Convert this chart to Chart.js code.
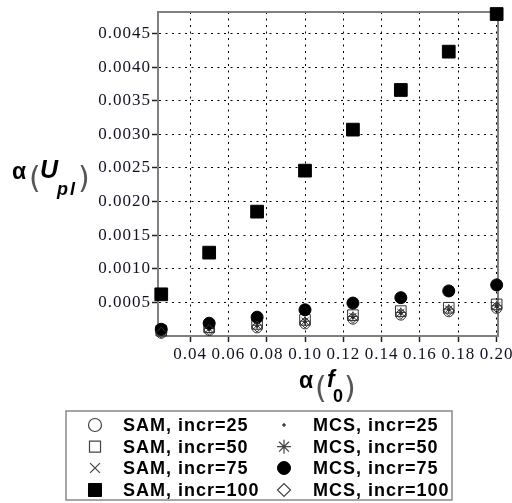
<!DOCTYPE html>
<html>
<head>
<meta charset="utf-8">
<script src="https://cdn.jsdelivr.net/npm/chart.js@4/dist/chart.umd.min.js"></script>
<style>
  html, body { margin: 0; padding: 0; background: #fff; }
  #wrap { width: 512px; height: 503px; position: relative; }
</style>
</head>
<body>
<div id="wrap"><canvas id="chart" width="512" height="503"></canvas></div>
<script>
const xValues = [0.025, 0.05, 0.075, 0.10, 0.125, 0.15, 0.175, 0.20];
const xTicks = [0.04, 0.06, 0.08, 0.10, 0.12, 0.14, 0.16, 0.18, 0.20];
const yTicks = [0.0005, 0.0010, 0.0015, 0.0020, 0.0025, 0.0030, 0.0035, 0.0040, 0.0045];

const sam25 = [0.00004, 0.00008, 0.00012, 0.00018, 0.00025, 0.00031, 0.00036, 0.00041];
const sam50 = [0.00008, 0.00013, 0.00018, 0.00024, 0.00031, 0.00037, 0.00042, 0.00047];
const sam75 = [0.00010, 0.00019, 0.00028, 0.00039, 0.00049, 0.00057, 0.00067, 0.00076];
const sam100 = [0.00062, 0.00124, 0.00185, 0.00246, 0.00307, 0.00366, 0.00423, 0.00479];
const mcs25 = [0.00006, 0.00010, 0.00015, 0.00021, 0.00028, 0.00034, 0.00039, 0.00044];
const mcs50 = [0.00007, 0.00011, 0.00016, 0.00022, 0.00029, 0.00035, 0.00040, 0.00045];
const mcs75 = [0.00010, 0.00019, 0.00028, 0.00039, 0.00049, 0.00057, 0.00067, 0.00076];
const mcs100 = [0.00005, 0.00009, 0.00014, 0.00020, 0.00027, 0.00033, 0.00038, 0.00043];

const toPts = arr => arr.map((v, i) => ({ x: xValues[i], y: v }));

// marker look, shared by the plot and the legend
const series = [
  { label: "SAM, incr=25",  data: sam25,  style: "circle",   r: 5,   fill: "rgba(0,0,0,0)", line: "#333", bw: 1 },
  { label: "SAM, incr=50",  data: sam50,  style: "rect",     r: 7.5, fill: "rgba(0,0,0,0)", line: "#333", bw: 1 },
  { label: "SAM, incr=75",  data: sam75,  style: "crossRot", r: 6,   fill: "rgba(0,0,0,0)", line: "#222", bw: 1 },
  { label: "SAM, incr=100", data: sam100, style: "rect",     r: 9,   fill: "#000", line: "#000", bw: 1 },
  { label: "MCS, incr=25",  data: mcs25,  style: "circle",   r: 1.3, fill: "#000", line: "#000", bw: 1 },
  { label: "MCS, incr=50",  data: mcs50,  style: "star",     r: 5,   fill: "rgba(0,0,0,0)", line: "#333", bw: 1 },
  { label: "MCS, incr=75",  data: mcs75,  style: "circle",   r: 6,   fill: "#000", line: "#000", bw: 1 },
  { label: "MCS, incr=100", data: mcs100, style: "rectRot",  r: 5.5, fill: "rgba(0,0,0,0)", line: "#333", bw: 1 }
];

const drawOrder = [7, 6, 5, 4, 3, 2, 1, 0];

const legendMarkers = [
  { style: "circle", r: 6.5, fill: "#fff", line: "#444", bw: 1.2 },
  { style: "rect", r: 7.8, fill: "#fff", line: "#444", bw: 1.2 },
  { style: "crossRot", r: 7, fill: "#fff", line: "#444", bw: 1.2 },
  { style: "rect", r: 9.2, fill: "#000", line: "#000", bw: 1 },
  { style: "circle", r: 1.3, fill: "#444", line: "#444", bw: 1 },
  { style: "star", r: 7, fill: "#fff", line: "#444", bw: 1.2 },
  { style: "circle", r: 6.5, fill: "#000", line: "#000", bw: 1 },
  { style: "rectRot", r: 6.5, fill: "#fff", line: "#444", bw: 1.2 }
];

const frameAndText = {
  id: "frameAndText",
  beforeDraw(chart) {
    chart.ctx.letterSpacing = "1px";
  },
  beforeDatasetsDraw(chart) {
    const { ctx, chartArea: a } = chart;
    ctx.save();
    ctx.strokeStyle = "#808080";
    ctx.lineWidth = 2;
    ctx.beginPath();
    ctx.moveTo(a.left, a.top);
    ctx.lineTo(a.right, a.top);
    ctx.lineTo(a.right, a.bottom);
    ctx.stroke();
    ctx.restore();
  },
  afterDraw(chart) {
    const ctx = chart.ctx;
    ctx.save();
    ctx.letterSpacing = "0px";
    ctx.fillStyle = "#000";
    ctx.textBaseline = "alphabetic";
    ctx.textAlign = "left";

    // y title: α(U_pl)
    ctx.font = "bold 23px 'Liberation Sans'";
    ctx.fillText("α", 12, 179);
    ctx.fillStyle = "#555";
    ctx.font = "30px 'DejaVu Sans'";
    ctx.fillText("(", 29, 188);
    ctx.fillText(")", 78, 188);
    ctx.fillStyle = "#000";
    ctx.font = "bold italic 25px 'Liberation Sans'";
    ctx.fillText("U", 40, 178);
    ctx.font = "bold italic 18px 'Liberation Sans'";
    ctx.fillText("p", 57, 195);
    ctx.fillText("l", 70, 195);

    // x title: α(f0)
    ctx.font = "bold 23px 'Liberation Sans'";
    ctx.fillText("α", 299, 388);
    ctx.fillStyle = "#555";
    ctx.font = "30px 'DejaVu Sans'";
    ctx.fillText("(", 315, 398);
    ctx.fillText(")", 344, 398);
    ctx.fillStyle = "#000";
    ctx.font = "bold italic 23px 'Liberation Sans'";
    ctx.fillText("f", 327, 387);
    ctx.font = "bold 18px 'Liberation Sans'";
    ctx.fillText("0", 333, 402);

    // legend box
    ctx.strokeStyle = "#888";
    ctx.lineWidth = 1.5;
    ctx.strokeRect(66, 411, 386, 89);
    const rows = [425, 446.7, 468, 490];
    ctx.font = "bold 18px 'Liberation Sans'";
    ctx.letterSpacing = "1px";
    ctx.textBaseline = "middle";
    series.forEach((s, i) => {
      const col = i < 4 ? 0 : 1;
      const y = rows[i % 4];
      const mx = col === 0 ? 95 : 284;
      const tx = col === 0 ? 123 : 313;
      const m = legendMarkers[i];
      ctx.save();
      ctx.fillStyle = m.fill;
      ctx.strokeStyle = m.line;
      ctx.lineWidth = m.bw;
      Chart.helpers.drawPoint(ctx, { pointStyle: m.style, radius: m.r, rotation: 0, borderWidth: m.bw }, mx, y);
      ctx.restore();
      ctx.fillStyle = "#000";
      ctx.fillText(s.label, tx, y + 1);
    });
    ctx.restore();
  }
};

new Chart(document.getElementById("chart"), {
  type: "scatter",
  data: {
    datasets: series.map((s, i) => ({
      label: s.label,
      data: toPts(s.data),
      pointStyle: s.style,
      pointRadius: s.r,
      pointHoverRadius: s.r,
      backgroundColor: s.fill,
      borderColor: s.line,
      borderWidth: s.bw,
      order: drawOrder[i],
      clip: false
    }))
  },
  options: {
    responsive: false,
    animation: false,
    events: [],
    layout: { padding: { left: 0, right: 14, top: 12, bottom: 130 } },
    plugins: { legend: { display: false }, tooltip: { enabled: false } },
    scales: {
      x: {
        type: "linear",
        min: 0.0233,
        max: 0.2007,
        afterBuildTicks: scale => { scale.ticks = xTicks.map(v => ({ value: v })); },
        afterFit: scale => { scale.height = 37; scale.paddingLeft = 0; scale.paddingRight = 0; },
        ticks: {
          autoSkip: false,
          maxRotation: 0,
          padding: 2,
          color: "#111128",
          font: { family: "'Liberation Serif'", size: 17 },
          callback: v => v.toFixed(2)
        },
        grid: { color: "#000", lineWidth: 1, tickLength: 6, tickColor: "#222", tickWidth: 1.5 },
        border: { display: true, color: "#808080", width: 2, dash: [2, 4.5] }
      },
      y: {
        type: "linear",
        min: 0,
        max: 0.00482,
        afterBuildTicks: scale => { scale.ticks = yTicks.map(v => ({ value: v })); },
        afterFit: scale => { scale.width = 158; scale.paddingTop = 0; scale.paddingBottom = 0; },
        ticks: {
          autoSkip: false,
          padding: 1,
          color: "#111128",
          font: { family: "'Liberation Serif'", size: 17 },
          callback: v => v.toFixed(4)
        },
        grid: { color: "#000", lineWidth: 1, tickLength: 6, tickColor: "#222", tickWidth: 1.5 },
        border: { display: true, color: "#808080", width: 2, dash: [2, 4.5] }
      }
    }
  },
  plugins: [frameAndText]
});
</script>
</body>
</html>
